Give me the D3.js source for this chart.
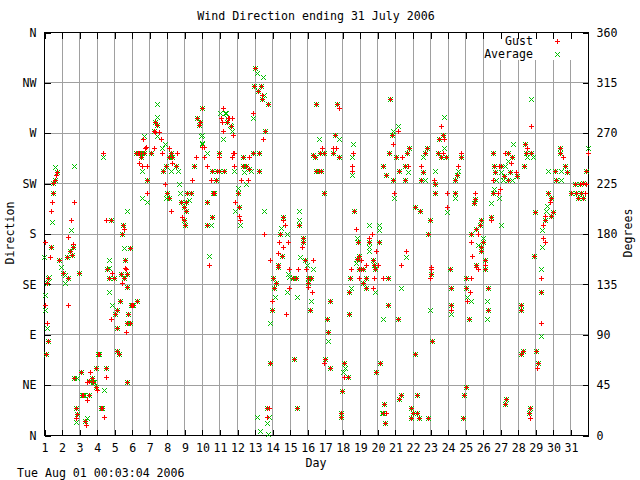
<!DOCTYPE html>
<html>
<head>
<meta charset="utf-8">
<script src="https://cdn.jsdelivr.net/npm/d3@7"></script>
<style>
  body { margin: 0; background: #fff; }
  text { font-family: "DejaVu Sans Mono", monospace; font-size: 11.6px; fill: #000; }
</style>
</head>
<body>
<script>
// wind direction samples: [day, degrees]
var gust = [
  [1.11,72],[1.23,84],[1.17,100],[1.06,116],[1.23,140],[1.17,136],[1.06,172],[1.40,168],[1.34,159],[1.40,200],[1.46,208],[1.51,216],[1.51,225],[1.63,228],[1.74,235],[1.68,232],
  [1.85,156],[2.08,145],[2.31,159],[2.37,140],[2.37,116],[2.48,164],[2.54,192],[2.59,161],[2.65,171],[2.65,168],[2.37,177],[2.71,208],[2.99,145],
  [2.71,51],[2.80,24],[2.80,15],[2.90,19],[3.09,56],[3.15,36],[3.24,36],[3.33,12.5],[3.37,9],[3.47,31],[3.47,47.6],[3.56,48],[3.56,36],[3.60,56],[3.75,50.6],[3.80,47.6],[3.94,43],[3.94,60],[4.04,40],[4.09,72],[4.15,72],[4.26,24],[4.30,24],[4.42,16],[4.51,60],[4.55,52],
  [4.59,148],[4.87,145],[4.70,140],[4.99,140],[4.82,104],[5.04,108],[5.16,112],[5.33,120],[5.16,96],[5.67,92],[5.73,100],[5.90,100],[5.78,108],[6.01,116],[5.95,116],[6.07,116],[6.30,120],[5.67,148],[5.38,144],[5.56,140],[5.73,144],[5.44,136],[5.73,132],
  [4.53,192],[4.82,192],[4.36,252],[5.50,188],[5.44,180],[5.56,184],[5.90,167],[5.61,156],[5.61,149],[5.16,75],[5.27,72],[5.74,47.6],
  [6.25,252],[6.35,252],[6.41,252],[6.52,252],[6.69,252],[7.09,252],[6.81,257],[6.41,243],[6.58,240],[6.87,240],[6.87,228],[6.87,216],[6.64,264],[6.75,256],[7.26,256],[6.52,248],
  [7.32,280],[7.44,277],[7.32,271],[7.55,271],[7.66,264],[7.26,272],
  [7.72,252],[8.12,256],[8.23,252],[8.57,252],[8.12,248],[8.29,248],[7.95,240],[8.29,243],[8.52,240],[7.78,236],[7.89,224],[8.00,216],[8.12,212],[8.23,200],
  [9.14,216],[9.37,216],[8.80,208],[9.09,208],[8.97,204],[9.09,200],[8.86,195],[8.97,192],[9.03,188],[9.43,228],[9.54,240],[9.66,248],[10.11,248],[10.00,257],[10.28,240],[10.57,236],[10.85,236],[10.51,228],[10.79,228],[10.62,216],[10.70,216],[10.28,208],[10.57,195],[10.28,188],[10.40,152],
  [10.00,292],[9.71,283],[9.83,277],[9.88,280],[10.11,257],
  [11.19,292],[11.08,283],[11.54,283],[11.71,283],[11.14,280],[11.42,280],[11.19,272],[11.76,268],[11.48,283],[11.65,276],
  [10.97,252],[10.97,248],[11.76,252],[11.71,248],[11.82,252],[12.33,248],[12.67,248],[12.90,252],[13.24,252],[11.82,240],[12.33,240],[12.50,240],[12.67,238],[13.24,236],[12.22,228],[12.62,228],[12.05,216],[11.88,208],[12.10,204],[12.10,196],[12.16,192],[11.25,236],[10.97,236],[13.53,180],
  [13.02,328],[12.96,312],[13.36,312],[13.18,307],[13.41,304],[13.41,300],[13.76,296],[12.90,288],[13.59,272],[13.47,264],
  [14.61,195],[14.61,192],[14.72,188],[14.44,180],[14.38,172],[14.61,168],[14.90,172],[14.33,163],[14.55,160],[13.87,156],[14.33,152],[14.33,150],[14.95,148],[15.46,148],[15.92,148],[15.18,140],[15.35,140],[14.04,140],[14.21,136],[14.10,131],[14.95,131],[13.98,120],[13.98,112],[14.78,108],[16.03,140],[16.21,140],[16.03,136],[16.03,132],[16.26,128],[16.15,112],[15.52,188],[15.75,176],[15.75,172],[15.69,168],[15.86,156],[16.32,156],
  [13.70,24],[13.81,24],[13.70,16],[13.87,64],[15.24,68],[15.41,24],
  [16.49,296],[16.83,256],[16.72,252],[16.35,250],[16.95,252],[16.43,248],[16.66,236],[16.50,236],[16.80,236],[16.95,216],[17.00,68],[16.95,64],[17.29,60],[17.29,120],[17.12,104],[17.17,92],
  [17.69,296],[17.80,292],[17.57,268],[17.46,256],[17.63,256],[17.46,252],[17.80,248],[17.97,39],[18.08,64],[18.08,52],[18.31,52],[17.91,20],[17.91,16],
  [18.37,108],[18.37,128],[18.48,148],[18.43,140],[18.94,140],[18.94,148],[19.17,148],[19.34,140],[19.17,136],[19.34,131],[19.74,131],[19.79,140],[19.85,148],[20.31,140],[20.59,140],[21.33,152],[20.59,116],[21.16,104],
  [18.60,252],[18.54,240],[18.54,236],[18.65,200],[18.77,184],[18.88,172],[19.51,176],[19.51,172],[19.68,180],[20.08,172],[19.91,164],[18.82,157],[18.94,160],[19.05,156],[19.34,152],[19.74,156],[19.79,152],[20.02,152],[19.05,148],[21.61,164],
  [20.13,64],[19.91,56],[20.36,28],[20.31,20],[20.42,11],[20.48,20],[21.33,36],[21.22,32],
  [20.70,300],[20.82,268],[21.16,272],[20.87,260],[20.65,252],[21.05,248],[21.39,248],[21.67,252],[21.79,256],[20.31,240],[20.48,232],[20.87,228],[21.22,236],[21.56,240],[21.56,228],[20.93,216],
  [22.70,252],[22.81,256],[22.47,240],[22.58,235],[22.47,228],[21.73,240],[22.13,204],[22.41,200],[22.98,192],[22.87,180],
  [23.61,276],[23.72,268],[23.49,264],[23.78,264],[23.44,252],[23.72,252],[23.61,248],[23.89,248],[23.21,228],[23.27,224],[23.27,216],[23.95,216],[23.95,204],[24.41,216],[24.58,240],[24.52,232],[24.41,228],[24.75,248],[24.75,252],
  [23.04,150],[23.04,148],[23.04,144],[22.98,140],[24.12,148],[24.18,131],[24.18,116],[24.18,112],[23.10,84],[22.13,72],[25.60,150],[25.72,148],[26.11,148],[25.03,140],[25.32,140],[25.03,131],[25.26,128],[25.09,120],[25.20,104],[26.28,131],[26.28,112],[28.16,116],[28.16,112],[29.30,140],[29.30,128],[29.30,100],[28.28,75],[28.16,72],[29.02,75],[29.13,64],[29.08,60],
  [25.03,43],[24.92,36],[22.24,36],[21.90,24],[22.01,20],[22.24,20],[21.90,15],[22.36,15],[22.87,15],[24.86,15],[27.31,32],[27.25,28],[28.68,24],[28.62,20],[28.68,15],
  [25.54,216],[25.54,211],[25.49,207],[26.46,195],[26.46,192],[25.89,192],[25.83,188],[25.60,184],[25.72,180],[25.32,180],[26.00,172],[25.32,172],[25.89,168],[25.89,164],[25.37,160],[26.11,156],[25.60,152],[26.11,152],
  [26.57,252],[27.25,252],[27.42,252],[27.65,248],[27.59,243],[26.63,240],[26.91,240],[27.03,240],[26.68,235],[27.54,235],[27.88,235],[26.57,228],[27.42,228],[27.94,231],[27.20,231],[26.97,220],[26.85,216],[26.57,216],
  [28.39,260],[28.51,256],[28.45,252],[28.73,252],[28.33,240],[28.73,276],[30.10,236],[30.38,256],[30.38,252],[30.56,248],[30.67,240],[30.78,235],[30.16,228],[31.98,252],[31.87,236],[31.01,216],[31.24,224],[31.52,224],[31.70,225],[31.87,224],[31.30,216],[31.58,216],[31.81,216],[31.41,212],[31.70,212],
  [29.70,216],[29.87,212],[29.82,208],[29.99,199],[29.87,196],[29.53,196],[29.53,192],[29.42,188],[29.42,176],[29.53,172],[28.96,199],[28.90,160]
];

var average = [
  [1.11,72],[1.23,84],[1.17,96],[1.06,125],[1.06,112],[1.23,140],[1.17,136],[1.00,159],[1.40,168],[1.28,141],[1.46,190],[1.51,216],[1.51,225],[1.63,228],[1.74,235],[1.63,239],
  [1.85,156],[1.97,150],[2.08,145],[2.20,143],[2.20,136],[2.31,159],[2.37,140],[2.48,164],[2.54,183],[2.59,161],[2.65,168],[2.71,240],[2.99,145],
  [2.71,51],[2.80,24],[2.80,12],[2.90,19],[2.90,51],[3.09,56],[3.15,36],[3.24,36],[3.30,36],[3.33,12.5],[3.43,15.5],[3.56,48],[3.56,36],[3.75,50.6],[3.80,47.6],[3.85,47.6],[3.94,43],[3.94,60],[4.09,72],[4.15,72],[4.26,24],[4.30,24],[4.42,40],[4.51,60],
  [4.59,148],[4.70,140],[4.99,140],[4.70,128],[4.87,116],[5.04,108],[5.16,112],[5.33,120],[5.16,96],[5.73,100],[5.90,100],[5.78,108],[6.01,116],[5.95,116],[6.07,116],[6.30,120],[5.38,144],[5.56,140],[5.73,144],[5.73,132],
  [4.82,192],[4.70,156],[4.70,149],[4.36,248],[5.73,200],[5.50,188],[5.44,180],[5.56,167],[5.90,167],[5.61,156],[5.16,75],[5.27,72],[5.74,47.6],
  [6.25,252],[6.35,252],[6.41,252],[6.52,252],[6.69,252],[7.09,252],[6.58,236],[6.87,228],[6.58,212],[6.87,208],[6.69,267],[6.52,248],
  [7.44,296],[7.44,284],[7.32,280],[7.44,277],[7.44,267],[7.26,272],
  [7.72,256],[7.89,260],[8.23,252],[8.12,248],[8.29,248],[7.95,240],[8.52,240],[8.63,236],[8.23,236],[7.78,236],[8.00,216],[8.12,212],[7.95,212],[8.69,224],[8.74,216],
  [9.14,216],[9.37,216],[8.80,208],[9.09,208],[9.26,210],[8.97,204],[9.09,200],[8.97,192],[9.03,188],[9.54,240],[9.94,267],[10.00,261],[10.28,252],[10.57,236],[10.85,236],[10.79,228],[10.62,216],[10.70,216],[10.28,208],[10.57,195],[10.28,188],[10.51,188],[10.40,160],
  [10.00,292],[9.71,283],[9.83,277],[10.00,268],[10.00,260],[9.88,280],
  [11.02,288],[11.31,288],[11.42,283],[11.42,280],[11.59,277],[11.19,264],[11.71,272],[11.36,288],[11.65,276],
  [10.97,252],[12.33,248],[12.90,252],[13.24,252],[12.33,240],[12.50,240],[12.67,238],[11.82,236],[12.39,235],[12.79,236],[13.24,236],[12.50,224],[12.05,221],[12.05,216],[12.10,204],[11.88,200],[12.16,188],[11.25,236],[10.97,236],[13.53,200],
  [13.02,328],[13.13,323],[13.47,320],[12.96,312],[13.36,312],[13.18,307],[13.53,304],[13.41,300],[13.76,296],[12.90,283],[13.59,272],
  [14.61,195],[14.50,185],[14.84,180],[14.44,180],[14.55,160],[14.33,152],[14.33,150],[16.32,148],[14.90,144],[14.95,141],[15.18,140],[15.35,140],[14.04,140],[14.21,136],[14.10,131],[14.84,128],[14.15,123],[13.98,112],[13.87,100],[15.41,123],[16.03,140],[16.21,140],[16.03,136],[16.21,120],[16.15,112],[15.52,200],[15.52,192],[15.52,188],[15.75,176],[15.75,172],[15.58,159],[15.86,156],[15.98,152],
  [13.13,16],[13.30,4],[13.70,24],[13.81,16],[13.70,11],[13.76,0.5],[13.87,64],[15.24,68],[15.41,24],
  [16.49,296],[16.66,264],[16.72,252],[16.35,250],[16.95,252],[16.43,248],[16.66,236],[16.50,236],[16.80,236],[16.95,216],[17.00,68],[17.29,60],[17.29,120],[17.12,104],[17.17,92],[17.17,84],
  [17.69,296],[17.57,268],[17.80,264],[17.46,252],[17.80,248],[17.97,39],[18.08,64],[18.14,60],[18.03,56],[18.31,52],[17.91,20],[17.91,16],
  [18.37,108],[18.37,128],[18.48,131],[18.43,140],[18.94,148],[19.17,148],[19.34,140],[19.17,136],[19.34,131],[19.85,128],[19.85,148],[20.59,140],[21.33,131],[20.59,116],[20.31,104],[21.16,104],
  [18.60,260],[18.54,248],[18.54,232],[18.65,200],[19.51,188],[18.82,176],[18.88,172],[19.51,172],[20.08,188],[20.08,183],[20.08,172],[19.51,168],[19.51,164],[18.82,157],[18.94,160],[18.77,154],[19.74,156],[19.79,152],[19.05,148],[21.61,159],
  [20.13,64],[19.91,56],[20.36,28],[20.31,20],[20.25,20],[20.42,11],[21.33,36],[21.22,32],
  [20.70,300],[20.87,272],[20.82,268],[21.16,276],[20.65,252],[21.05,248],[21.67,252],[21.79,256],[20.31,240],[20.48,232],[20.87,228],[21.22,236],[21.56,240],[21.56,228],[20.93,212],
  [22.58,248],[22.70,252],[22.81,256],[22.58,235],[22.47,228],[22.70,228],[21.73,235],[22.13,204],[22.41,200],[22.98,192],[22.87,180],
  [23.78,284],[23.72,268],[23.49,264],[23.78,256],[23.44,252],[23.61,248],[23.89,248],[23.27,236],[23.27,224],[23.27,216],[23.95,199],[24.41,216],[24.41,212],[24.58,236],[24.52,232],[24.41,228],[24.75,248],
  [23.04,144],[24.12,148],[24.18,131],[24.18,116],[24.18,108],[22.98,112],[23.10,84],[22.13,72],[26.11,148],[25.03,140],[25.03,131],[25.09,123],[25.32,120],[25.20,104],[26.28,131],[26.23,120],[26.28,112],[26.23,104],[28.16,116],[28.16,112],[29.30,148],[29.30,128],[29.30,88],[28.28,75],[28.16,72],[29.02,75],[29.13,64],
  [25.03,43],[24.92,36],[22.24,36],[21.90,24],[22.01,20],[22.24,20],[21.90,15],[22.36,15],[22.87,15],[24.86,15],[27.31,32],[27.25,28],[28.68,24],[28.62,20],
  [25.54,211],[25.49,207],[26.46,195],[25.89,192],[25.83,188],[25.60,184],[25.32,180],[26.00,176],[26.00,172],[25.72,170],[25.89,168],[25.89,164],[26.11,156],[25.60,152],[27.03,188],
  [26.57,252],[27.42,252],[27.65,248],[27.71,260],[27.42,245],[27.25,240],[26.63,240],[27.03,240],[26.68,235],[27.03,235],[27.54,235],[26.74,228],[27.14,228],[27.42,228],[27.65,228],[27.94,231],[27.20,231],[26.57,216],[26.63,220],[26.46,207],[26.91,212],
  [28.39,260],[28.45,252],[28.73,252],[28.51,248],[28.85,248],[28.33,240],[28.73,300],[29.70,236],[30.10,236],[30.44,236],[30.38,256],[30.38,252],[30.67,240],[30.78,235],[30.16,228],[30.44,228],[31.98,256],[31.87,236],[31.01,216],[31.24,224],[31.52,224],[31.70,225],[31.30,216],[31.58,216],[31.41,212],[31.70,212],
  [29.70,216],[29.87,212],[29.65,205],[29.59,200],[29.99,199],[29.87,196],[29.53,192],[29.36,183],[29.36,168],[28.96,199],[28.90,160]
];

var dayTicks = d3.range(1, 32);
var degTicks = [0, 45, 90, 135, 180, 225, 270, 315, 360];
var compass = ["N", "NE", "E", "SE", "S", "SW", "W", "NW", "N"];

var vis = d3.select("body").append("svg")
    .attr("width", 640)
    .attr("height", 480);

var scaleX = d3.scaleLinear().domain([1, 32]).range([44, 588]);
var scaleY = d3.scaleLinear().domain([0, 360]).range([435, 32]);

function px(v) { return Math.round(v) + 0.5; }

// grid
var grid = vis.append("g").attr("stroke", "#a0a0a0").attr("shape-rendering", "crispEdges");
grid.selectAll("line.v")
    .data(dayTicks.slice(1))
  .enter().append("line")
    .attr("x1", function(d) { return px(scaleX(d)); })
    .attr("x2", function(d) { return px(scaleX(d)); })
    .attr("y1", 32).attr("y2", 435);
grid.selectAll("line.h")
    .data(degTicks.slice(1, -1))
  .enter().append("line")
    .attr("y1", function(d) { return px(scaleY(d)); })
    .attr("y2", function(d) { return px(scaleY(d)); })
    .attr("x1", 44).attr("x2", 588);

// key background
vis.append("rect").attr("x", 485).attr("y", 33).attr("width", 92).attr("height", 27).attr("fill", "#fff");

// axes with inward ticks
function styleAxis(g) {
  g.select(".domain").remove();
  g.selectAll(".tick line").attr("stroke", "#000").attr("shape-rendering", "crispEdges");
  g.selectAll("text").style("font-family", "DejaVu Sans Mono, monospace").style("font-size", "11.6px").attr("fill", "#000");
}
vis.append("g").attr("transform", "translate(0.5,435.5)")
    .call(d3.axisBottom(scaleX).tickValues(dayTicks).tickSize(-6).tickPadding(8).tickFormat(d3.format("d")))
    .call(styleAxis);
vis.append("g").attr("transform", "translate(0.5,32.5)")
    .call(d3.axisTop(scaleX).tickValues(dayTicks).tickSize(-6).tickFormat(""))
    .call(styleAxis);
vis.append("g").attr("transform", "translate(44.5,0.5)")
    .call(d3.axisLeft(scaleY).tickValues(degTicks).tickSize(-6).tickPadding(8).tickFormat(function(d, i) { return compass[i]; }))
    .call(styleAxis);
vis.append("g").attr("transform", "translate(588.5,0.5)")
    .call(d3.axisRight(scaleY).tickValues(degTicks).tickSize(-6).tickPadding(8).tickFormat(d3.format("d")))
    .call(styleAxis);

vis.append("rect")
    .attr("x", 44.5).attr("y", 32.5).attr("width", 544).attr("height", 403)
    .attr("fill", "none").attr("stroke", "#000").attr("shape-rendering", "crispEdges");

// markers
function plus(cx, cy) {
  return "M" + (cx - 2.5) + "," + cy + "H" + (cx + 2.5) + "M" + cx + "," + (cy - 2.5) + "V" + (cy + 2.5);
}
function cross(cx, cy) {
  return "M" + (cx - 2.5) + "," + (cy - 2.5) + "L" + (cx + 2.5) + "," + (cy + 2.5) +
         "M" + (cx - 2.5) + "," + (cy + 2.5) + "L" + (cx + 2.5) + "," + (cy - 2.5);
}

vis.append("g").selectAll("path")
    .data(average)
  .enter().append("path")
    .attr("d", function(d) { return cross(px(scaleX(d[0])), px(scaleY(d[1]))); })
    .attr("stroke", "#00c000").attr("fill", "none");

vis.append("g").selectAll("path")
    .data(gust)
  .enter().append("path")
    .attr("d", function(d) { return plus(px(scaleX(d[0])), px(scaleY(d[1]))); })
    .attr("stroke", "#ff0000").attr("fill", "none").attr("shape-rendering", "crispEdges");

// key
vis.append("text").attr("x", 533).attr("y", 45).attr("text-anchor", "end").text("Gust");
vis.append("text").attr("x", 533).attr("y", 58).attr("text-anchor", "end").text("Average");
vis.append("path").attr("d", plus(557.5, 41.5)).attr("stroke", "#ff0000").attr("shape-rendering", "crispEdges");
vis.append("path").attr("d", cross(557.5, 54.5)).attr("stroke", "#00c000").attr("fill", "none");

// titles
vis.append("text").attr("x", 316).attr("y", 20).attr("text-anchor", "middle").text("Wind Direction ending 31 July 2006");
vis.append("text").attr("x", 316).attr("y", 467).attr("text-anchor", "middle").text("Day");
vis.append("text").attr("x", 17).attr("y", 477).text("Tue Aug 01 00:03:04 2006");
vis.append("text").attr("transform", "translate(14,233) rotate(-90)").attr("text-anchor", "middle").text("Direction");
vis.append("text").attr("transform", "translate(632,233) rotate(-90)").attr("text-anchor", "middle").text("Degrees");
</script>
</body>
</html>
